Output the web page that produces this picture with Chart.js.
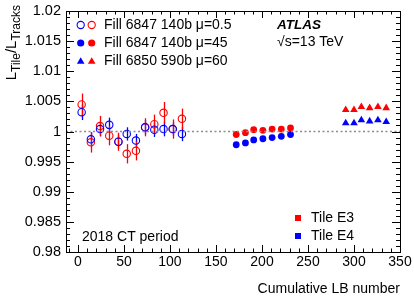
<!DOCTYPE html>
<html>
<head>
<meta charset="utf-8">
<script src="https://cdn.jsdelivr.net/npm/chart.js@4.4.1/dist/chart.umd.min.js"></script>
<style>
html,body{margin:0;padding:0;background:#fff;}
#wrap{width:414px;height:303px;position:relative;}
</style>
</head>
<body>
<div id="wrap"><canvas id="c" width="414" height="303"></canvas></div>
<script>
// ---- data ----
const xLowMu = [4, 14, 24, 34, 44, 53, 63, 73, 83, 93, 103, 113];
const e3LowMu = [1.0045, 0.9982, 1.0009, 0.9993, 0.9983, 0.9963, 0.9968, 1.0007, 1.0012, 1.0031, 1.0004, 1.0021];
const e3LowMuErr = [0.0018, 0.0017, 0.0017, 0.0016, 0.0015, 0.0016, 0.0016, 0.0015, 0.0016, 0.0018, 0.0016, 0.0017];
const e4LowMu = [1.0032, 0.9987, 1.0004, 1.0011, 0.9983, 0.9996, 0.9985, 1.0007, 1.0003, 1.0004, 1.0004, 0.9996];
const e4LowMuErr = [0.0013, 0.0012, 0.0012, 0.0012, 0.0011, 0.0011, 0.0011, 0.0012, 0.0012, 0.0012, 0.0011, 0.0012];

const xMu45 = [172, 182, 191, 201, 211, 221, 231];
const e3Mu45 = [0.9995, 0.9998, 1.0003, 1.0002, 1.0004, 1.0004, 1.0006];
const e4Mu45 = [0.9978, 0.9981, 0.9986, 0.9988, 0.9990, 0.9992, 0.9995];

const xMu60 = [291, 300, 308, 317, 326, 335];
const e3Mu60 = [1.0036, 1.0036, 1.0041, 1.0039, 1.0041, 1.0039];
const e4Mu60 = [1.0014, 1.0014, 1.0019, 1.0017, 1.0019, 1.0016];

const refLineX = [-13, 350];
const refLineY = [1, 1];

const xTickLabels = ["0", "50", "100", "150", "200", "250", "300", "350"];
const yTickLabels = ["0.98", "0.985", "0.99", "0.995", "1", "1.005", "1.01", "1.015", "1.02"];

const legendEntries = ["Fill 6847 140b \u03bc=0.5", "Fill 6847 140b \u03bc=45", "Fill 6850 590b \u03bc=60"];
const cellEntries = ["Tile E3", "Tile E4"];

// ---- styles ----
const RED = "#ff0000", BLUE = "#0000ff";
const FONT = "'Liberation Sans', Arial, Helvetica, sans-serif";

function pts(xs, ys) { return xs.map((x, i) => ({x: x, y: ys[i]})); }

const datasets = [
  {label: "ref", data: pts(refLineX, refLineY), type: "line", borderColor: "#8c8c8c", borderWidth: 1.5, borderDash: [2, 2.5], pointRadius: 0, fill: false},
  {label: "E4 lowmu", data: pts(xLowMu, e4LowMu), errs: e4LowMuErr, pointStyle: "circle", pointRadius: 3.7, borderWidth: 1.1, borderColor: BLUE, backgroundColor: "rgba(0,0,0,0)"},
  {label: "E3 lowmu", data: pts(xLowMu, e3LowMu), errs: e3LowMuErr, pointStyle: "circle", pointRadius: 3.7, borderWidth: 1.1, borderColor: RED, backgroundColor: "rgba(0,0,0,0)"},
  {label: "E3 mu45", data: pts(xMu45, e3Mu45), pointStyle: "circle", pointRadius: 3.4, borderWidth: 0, borderColor: RED, backgroundColor: RED},
  {label: "E4 mu45", data: pts(xMu45, e4Mu45), pointStyle: "circle", pointRadius: 3.4, borderWidth: 0, borderColor: BLUE, backgroundColor: BLUE},
  {label: "E3 mu60", data: pts(xMu60, e3Mu60), pointStyle: "triangle", pointRadius: 4.4, borderWidth: 0, borderColor: RED, backgroundColor: RED},
  {label: "E4 mu60", data: pts(xMu60, e4Mu60), pointStyle: "triangle", pointRadius: 4.4, borderWidth: 0, borderColor: BLUE, backgroundColor: BLUE}
];

const rootPlugin = {
  id: "rootStyle",
  beforeDatasetsDraw(chart) {
    const ctx = chart.ctx, xs = chart.scales.x, ys = chart.scales.y;
    ctx.save();
    chart.data.datasets.forEach(ds => {
      if (!ds.errs) return;
      ctx.strokeStyle = ds.borderColor;
      ctx.lineWidth = 1.3;
      ds.data.forEach((p, i) => {
        const px = Math.round(xs.getPixelForValue(p.x)) + 0.5;
        ctx.beginPath();
        ctx.moveTo(px, ys.getPixelForValue(p.y - ds.errs[i]));
        ctx.lineTo(px, ys.getPixelForValue(p.y + ds.errs[i]));
        ctx.stroke();
      });
    });
    ctx.restore();
  },
  afterDraw(chart) {
    const ctx = chart.ctx, xs = chart.scales.x, ys = chart.scales.y, a = chart.chartArea;
    ctx.save();
    // frame
    ctx.strokeStyle = "#000";
    ctx.lineWidth = 1;
    ctx.strokeRect(Math.round(a.left) + 0.5, Math.round(a.top) + 0.5, Math.round(a.right - a.left), Math.round(a.bottom - a.top));
    // x ticks
    ctx.beginPath();
    for (let v = -10; v <= 350; v += 10) {
      const px = Math.round(xs.getPixelForValue(v)) + 0.5;
      const len = (v % 50 === 0) ? 7 : 3.5;
      ctx.moveTo(px, a.bottom); ctx.lineTo(px, a.bottom - len);
      ctx.moveTo(px, a.top); ctx.lineTo(px, a.top + len);
    }
    // y ticks
    for (let k = 0; k <= 40; k++) {
      const v = 0.98 + k * 0.001;
      const py = Math.round(ys.getPixelForValue(v)) + 0.5;
      const len = (k % 5 === 0) ? 8 : 4;
      ctx.moveTo(a.left, py); ctx.lineTo(a.left + len, py);
      ctx.moveTo(a.right, py); ctx.lineTo(a.right - len, py);
    }
    ctx.stroke();

    ctx.fillStyle = "#000";
    ctx.font = "14px " + FONT;
    // x tick labels
    ctx.textAlign = "center"; ctx.textBaseline = "middle";
    xTickLabels.forEach(t => {
      ctx.fillText(t, xs.getPixelForValue(parseFloat(t)), 262);
    });
    // y tick labels
    ctx.textAlign = "right";
    ctx.font = "14.5px " + FONT;
    yTickLabels.forEach(t => {
      ctx.fillText(t, a.left - 5, ys.getPixelForValue(parseFloat(t)));
    });
    ctx.font = "14px " + FONT;
    // x title
    ctx.textAlign = "right";
    ctx.fillText("Cumulative LB number", a.right, 289);

    // y title (rotated, with subscripts)
    const parts = [["L", 15, 0], ["Tile", 12, 3.5], ["/L", 15, 0], ["Tracks", 12, 3.5]];
    let W = 0;
    parts.forEach(p => { ctx.font = p[1] + "px " + FONT; W += ctx.measureText(p[0]).width; });
    ctx.save();
    ctx.translate(16, 5 + W);
    ctx.rotate(-Math.PI / 2);
    ctx.textAlign = "left"; ctx.textBaseline = "alphabetic";
    let cx = 0;
    parts.forEach(p => {
      ctx.font = p[1] + "px " + FONT;
      ctx.fillText(p[0], cx, p[2]);
      cx += ctx.measureText(p[0]).width;
    });
    ctx.restore();

    // ATLAS label
    ctx.textAlign = "left"; ctx.textBaseline = "middle";
    ctx.font = "italic bold 13.5px " + FONT;
    ctx.fillText("ATLAS", 277, 25);
    ctx.font = "14px " + FONT;
    ctx.fillText("\u221As=13 TeV", 277, 42);
    ctx.fillText("2018 CT period", 82, 237);

    // top-left legend
    const rows = [25, 43, 61];
    const styles = [["circle", false], ["circle", true], ["triangle", true]];
    rows.forEach((ry, i) => {
      [[80.7, BLUE], [91.7, RED]].forEach(m => {
        ctx.save();
        ctx.strokeStyle = m[1]; ctx.fillStyle = m[1]; ctx.lineWidth = 1.1;
        if (styles[i][0] === "circle") {
          ctx.beginPath(); ctx.arc(m[0], ry, 3.6, 0, Math.PI * 2);
          if (styles[i][1]) ctx.fill(); else ctx.stroke();
        } else {
          const r = 4.4;
          ctx.beginPath();
          ctx.moveTo(m[0], ry - r * 0.75 - 0.5);
          ctx.lineTo(m[0] + r * 0.866, ry + r * 0.75 - 0.5);
          ctx.lineTo(m[0] - r * 0.866, ry + r * 0.75 - 0.5);
          ctx.closePath(); ctx.fill();
        }
        ctx.restore();
      });
      ctx.fillStyle = "#000";
      ctx.fillText(legendEntries[i], 104, ry);
    });

    // bottom-right legend
    [[RED, 218], [BLUE, 236]].forEach((m, i) => {
      ctx.fillStyle = m[0];
      ctx.fillRect(295, m[1] - 3, 6, 6);
      ctx.fillStyle = "#000";
      ctx.fillText(cellEntries[i], 311, m[1]);
    });
    ctx.restore();
  }
};

new Chart(document.getElementById("c"), {
  type: "scatter",
  data: {datasets: datasets},
  options: {
    responsive: false,
    animation: false,
    devicePixelRatio: 1,
    layout: {padding: {left: 66, right: 14, top: 11, bottom: 51}},
    plugins: {legend: {display: false}, tooltip: {enabled: false}},
    scales: {
      x: {type: "linear", min: -13, max: 350, display: false},
      y: {type: "linear", min: 0.98, max: 1.02, display: false}
    }
  },
  plugins: [rootPlugin]
});
</script>
</body>
</html>
